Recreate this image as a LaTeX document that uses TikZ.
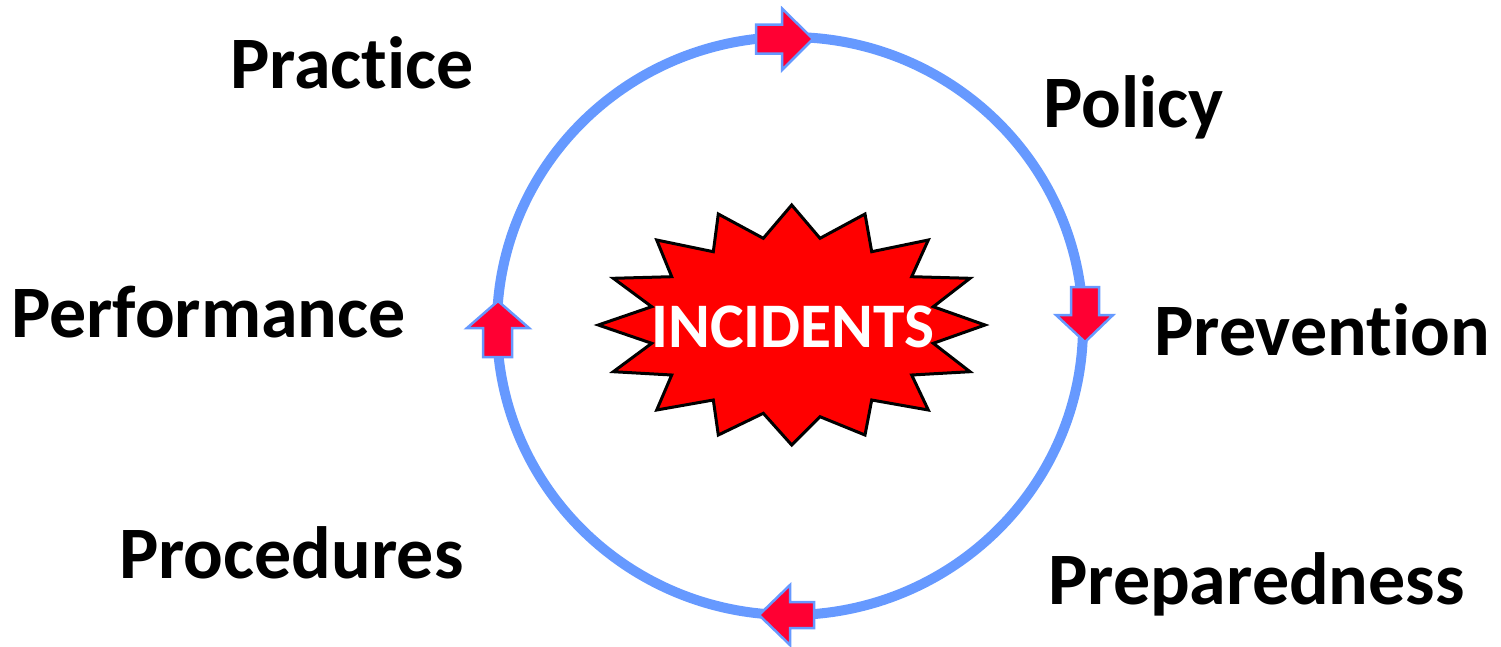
\documentclass[tikz,border=0pt]{standalone}
\usepackage{fontspec}
\setmainfont{Carlito}[Ligatures=NoCommon]
\definecolor{ringblue}{RGB}{102,153,255}
\definecolor{arrred}{RGB}{255,0,51}
\definecolor{burstred}{RGB}{255,0,0}
\tikzset{
  ring/.style={draw=ringblue, line width=10pt},
  flowarrow/.style={fill=arrred, draw=ringblue, line width=2.5pt, line join=miter},
  burst/.style={fill=burstred, draw=black, line width=3pt, line join=miter},
  biglabel/.style={anchor=base west, inner sep=0pt, font=\fontsize{74}{86}\selectfont\bfseries},
  centerlabel/.style={anchor=base, inner sep=0pt, text=white, font=\fontsize{63.5}{72}\selectfont\bfseries}
}
\begin{document}
\begin{tikzpicture}[x=1pt,y=-1pt]
\useasboundingbox (0,0) rectangle (1501,646);
% ring
\draw[ring] (790,326) ellipse [x radius=293, y radius=289];
% direction arrows
\draw[flowarrow] (756,24.5) -- (782,24.5) -- (782,8.5) -- (813,39) -- (782,70) -- (782,53.5) -- (756,53.5) -- cycle;
\draw[flowarrow] (1071,287) -- (1099,287) -- (1099,315) -- (1113,315) -- (1085,342) -- (1056,315) -- (1071,315) -- cycle;
\draw[flowarrow] (814,602) -- (790,602) -- (790,585) -- (759,615) -- (790,645) -- (790,628) -- (814,628) -- cycle;
\draw[flowarrow] (483,357) -- (483,328) -- (467,328) -- (498,301) -- (529,328) -- (512,328) -- (512,357) -- cycle;
% starburst
\draw[burst] (791.7,205) -- (820,238.3) -- (865,214) -- (871.7,251.7) -- (928.3,240) -- (911.7,276.7)
  -- (970,278.3) -- (933.3,306.7) -- (985,325) -- (933.3,343.3) -- (970,371.7) -- (911.7,375)
  -- (928.3,410) -- (871.7,400) -- (865,435) -- (820,416.7) -- (791.7,445) -- (763.3,413.3)
  -- (718.3,435) -- (713.3,400) -- (656.7,410) -- (671.7,375) -- (613.3,371.7) -- (651.7,343.3)
  -- (598.3,325) -- (651.7,306.7) -- (613.3,278.3) -- (671.7,276.7) -- (656.7,240) -- (713.3,251.7)
  -- (718.3,214) -- (763.3,238.3) -- cycle;
\node[centerlabel] (incidents) at (793,347) {INCIDENTS};
% labels
\node[biglabel] (practice) at (230,88) {Practice};
\node[biglabel] (policy) at (1043,127) {Policy};
\node[biglabel] (prevention) at (1154,355) {Prevention};
\node[biglabel] (preparedness) at (1048,604) {Preparedness};
\node[biglabel] (procedures) at (119,578) {Procedures};
\node[biglabel] (performance) at (11,337) {Performance};
\end{tikzpicture}
\end{document}
